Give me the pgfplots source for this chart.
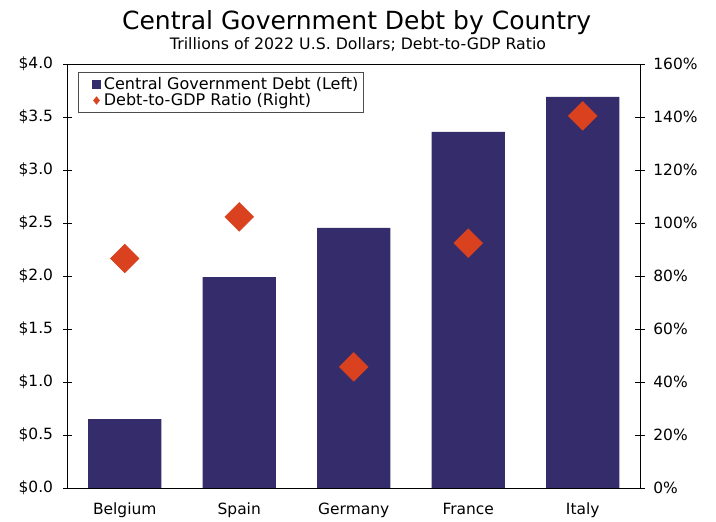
\documentclass[border=0pt]{standalone}
\usepackage{fontspec}
\setmainfont{DejaVu Sans}
\usepackage{pgfplots}
\pgfplotsset{compat=1.18}
\definecolor{navy}{RGB}{53,44,107}
\definecolor{dred}{RGB}{217,65,31}
\begin{document}
\begin{tikzpicture}
\path (0,0) rectangle (537pt,390pt);
\node[anchor=base,font=\fontsize{18.75}{22}\selectfont] at (267.5pt,367.5pt) {Central Government Debt by Country};
\node[anchor=base,font=\fontsize{11.8}{13}\selectfont] at (268.5pt,352.5pt) {Trillions of 2022 U.S. Dollars; Debt-to-GDP Ratio};
\begin{axis}[
  at={(50.6pt,24pt)}, anchor=south west,
  scale only axis, width=429.4pt, height=318pt,
  xmin=-0.5, xmax=4.5, ymin=0, ymax=4,
  xtick={0,1,2,3,4},
  xticklabels={Belgium,Spain,Germany,France,Italy},
  major x tick style={draw=none},
  extra x ticks={-0.5,0.5,1.5,2.5,3.5,4.5},
  extra x tick labels={},
  extra x tick style={major tick length=7pt, tick style={draw=black}},
  xtick pos=bottom, ytick pos=left,
  tick align=center, major tick length=7pt,
  ytick={0,0.5,...,4},
  yticklabel={\$\pgfmathprintnumber[fixed,fixed zerofill,precision=1]{\tick}},
  /pgf/number format/assume math mode=true,
  tick label style={font=\fontsize{11.6}{14}\selectfont},
  yticklabel style={xshift=-3.8pt},
  xticklabel style={yshift=-4pt, text height=8.5pt, text depth=2.5pt},
  tick style={black, line width=0.6pt},
  axis line style={line width=0.6pt},
  legend style={at={(rel axis cs:0.018,0.981)}, anchor=north west, draw=gray!60!black, fill=white, font=\fontsize{12}{13}\selectfont, row sep=-2.3pt, inner xsep=2pt, inner ysep=1.5pt, nodes={inner xsep=2pt}},
  legend cell align=left,
  legend image code/.code={\path (0pt,0pt); \fill[navy] (8.3pt,-3.4pt) rectangle (15pt,3.4pt);},
]
\addplot[ybar, fill=navy, draw=none, bar width=0.64] coordinates {(0,0.65) (1,1.99) (2,2.455) (3,3.36) (4,3.69)};
\addlegendentry{Central Government Debt (Left)}
\addlegendimage{legend image code/.code={\path (0pt,0pt); \fill[dred] (11.65pt,-2.8pt)--(13.9pt,0pt)--(11.65pt,2.8pt)--(9.4pt,0pt)--cycle; \path (15pt,0pt);}}
\addlegendentry{Debt-to-GDP Ratio (Right)}
\end{axis}
\begin{axis}[
  at={(50.6pt,24pt)}, anchor=south west,
  scale only axis, width=429.4pt, height=318pt,
  xmin=-0.5, xmax=4.5, ymin=0, ymax=160,
  axis x line=none, axis y line*=right,
  ytick={0,20,...,160},
  yticklabel={\pgfmathprintnumber{\tick}\%},
  /pgf/number format/assume math mode=true,
  tick align=center, major tick length=7pt,
  tick label style={font=\fontsize{11.6}{14}\selectfont},
  yticklabel style={xshift=3pt},
  tick style={black, line width=0.6pt},
  axis line style={line width=0.6pt},
]
\addplot[only marks, mark=square*, mark size=7.6pt, mark options={rotate=45, fill=dred, draw=dred}] coordinates {(0,86.6) (1,102.3) (2,45.7) (3,92.4) (4,140.4)};
\end{axis}
\end{tikzpicture}
\end{document}
